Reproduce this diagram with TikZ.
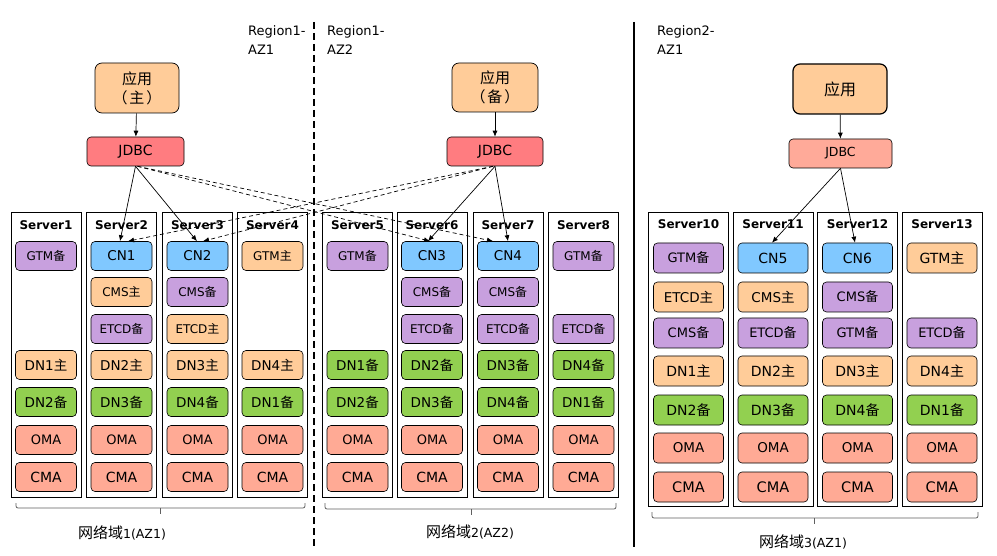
\documentclass[tikz,border=0pt]{standalone}
\usepackage{fontspec}
\setmainfont{DejaVu Sans}
\newfontfamily\cjk{Noto Sans CJK SC}
\newcommand\zh[1]{{\cjk #1}}
\usetikzlibrary{arrows.meta}
\definecolor{cpur}{HTML}{C8A0DE}
\definecolor{cblu}{HTML}{80C8FF}
\definecolor{cora}{HTML}{FFCC99}
\definecolor{cgrn}{HTML}{92D050}
\definecolor{csal}{HTML}{FFAA95}
\definecolor{cjdbc}{HTML}{FF7C80}
\definecolor{cjdbcb}{HTML}{FFAA99}
\definecolor{cbrace}{HTML}{606060}
\newcommand\comprow[5]{%
  \foreach \rw/\cl/\fs/\tx in {#5} {%
    \ifnum#4=1
      \pgfmathsetmacro\yy{{256,292,329,365,402,440,477}[\rw-1]}%
      \node[comp, fill=\cl, minimum width=#3pt, minimum height=29pt, font=\fontsize{\fs}{\fs}\selectfont] (s#1-\rw) at (#2,\yy) {\tx};
    \else
      \pgfmathsetmacro\yy{{258,297,333,371,410,448,487}[\rw-1]}%
      \node[comp, fill=\cl, minimum width=#3pt, minimum height=30pt, font=\fontsize{\fs}{\fs}\selectfont] (s#1-\rw) at (#2,\yy) {\tx};
    \fi
  }}
\begin{document}
\begin{tikzpicture}[x=1pt,y=-1pt,
  comp/.style={draw, rounded corners=4pt, inner sep=0pt, line width=0.6pt},
  srv/.style={draw, line width=0.8pt, inner sep=0pt},
  srvt/.style={font=\bfseries\fontsize{12}{12}\selectfont, inner sep=0pt},
  app/.style={draw, rounded corners=7pt, fill=cora, line width=0.7pt, align=center, inner sep=0pt, font=\cjk\fontsize{15}{19}\selectfont},
  jdbc/.style={draw, rounded corners=4pt, line width=0.6pt, inner sep=0pt},
  reg/.style={align=left, anchor=north west, inner sep=0pt, font=\fontsize{13}{19}\selectfont},
  arr/.style={-{Latex[length=6pt,width=5pt]}, line width=0.7pt},
  darr/.style={arr, dash pattern=on 4pt off 3pt},
  brace/.style={draw=cbrace, line width=0.8pt, rounded corners=2pt},
  net/.style={inner sep=0pt, font=\fontsize{12.5}{12.5}\selectfont}
]
\useasboundingbox[fill=white] (0,0) rectangle (997,556);

% region separators
\draw[line width=1.6pt, dash pattern=on 7pt off 4pt] (314,22) -- (314,547);
\draw[line width=1.6pt] (634,22) -- (634,547);

% region labels
\node[reg] (r1) at (248,25) {Region1-\\AZ1};
\node[reg] (r2) at (327,25) {Region1-\\AZ2};
\node[reg] (r3) at (657,25) {Region2-\\AZ1};

% applications and JDBC
\node[app, minimum width=84pt, minimum height=50pt] (a1) at (137,88) {应用\\（\hspace{2pt}主\hspace{2pt}）};
\node[app, minimum width=86pt, minimum height=49pt] (a2) at (495,87.5) {应用\\（\hspace{2pt}备\hspace{2pt}）};
\node[app, minimum width=94pt, minimum height=50pt, line width=1.2pt, font=\cjk\fontsize{16}{18}\selectfont] (a3) at (840,89) {应用};
\node[jdbc, fill=cjdbc, minimum width=97pt, minimum height=29pt, font=\fontsize{14}{14}\selectfont] (j1) at (135.5,151.5) {JDBC};
\node[jdbc, fill=cjdbc, minimum width=96pt, minimum height=29pt, font=\fontsize{14}{14}\selectfont] (j2) at (495,151.5) {JDBC};
\node[jdbc, fill=cjdbcb, minimum width=103pt, minimum height=29pt, font=\fontsize{12.5}{12.5}\selectfont] (j3) at (840.5,153.5) {JDBC};

% servers
\foreach \i/\x in {1/46,2/121.5,3/197.5,4/272.5,5/357.5,6/432,7/508,8/583.5} {
  \node[srv, minimum width=70pt, minimum height=285pt] (sv\i) at (\x,354.5) {};
  \node[srvt] (st\i) at (\x,225) {Server\i};
}
\foreach \i/\x in {10/688.5,11/773,12/857.5,13/942} {
  \node[srv, minimum width=80pt, minimum height=294pt] (sv\i) at (\x,359) {};
  \node[srvt] (st\i) at (\x,224) {Server\i};
}

% components
\comprow{1}{46}{61}{1}{1/cpur/12/GTM\zh{备}, 4/cora/13.5/DN1\zh{主}, 5/cgrn/13.5/DN2\zh{备}, 6/csal/13/OMA, 7/csal/14/CMA}
\comprow{2}{121.5}{61}{1}{1/cblu/13.5/CN1, 2/cora/12/CMS\zh{主}, 3/cpur/12/ETCD\zh{备}, 4/cora/13.5/DN2\zh{主}, 5/cgrn/13.5/DN3\zh{备}, 6/csal/13/OMA, 7/csal/14/CMA}
\comprow{3}{197.5}{61}{1}{1/cblu/13.5/CN2, 2/cpur/12/CMS\zh{备}, 3/cora/12/ETCD\zh{主}, 4/cora/13.5/DN3\zh{主}, 5/cgrn/13.5/DN4\zh{备}, 6/csal/13/OMA, 7/csal/14/CMA}
\comprow{4}{272.5}{61}{1}{1/cora/12/GTM\zh{主}, 4/cora/13.5/DN4\zh{主}, 5/cgrn/13.5/DN1\zh{备}, 6/csal/13/OMA, 7/csal/14/CMA}
\comprow{5}{357.5}{61}{1}{1/cpur/12/GTM\zh{备}, 4/cgrn/13.5/DN1\zh{备}, 5/cgrn/13.5/DN2\zh{备}, 6/csal/13/OMA, 7/csal/14/CMA}
\comprow{6}{432}{61}{1}{1/cblu/13.5/CN3, 2/cpur/12/CMS\zh{备}, 3/cpur/12/ETCD\zh{备}, 4/cgrn/13.5/DN2\zh{备}, 5/cgrn/13.5/DN3\zh{备}, 6/csal/13/OMA, 7/csal/14/CMA}
\comprow{7}{508}{61}{1}{1/cblu/13.5/CN4, 2/cpur/12/CMS\zh{备}, 3/cpur/12/ETCD\zh{备}, 4/cgrn/13.5/DN3\zh{备}, 5/cgrn/13.5/DN4\zh{备}, 6/csal/13/OMA, 7/csal/14/CMA}
\comprow{8}{583.5}{61}{1}{1/cpur/12/GTM\zh{备}, 3/cpur/12/ETCD\zh{备}, 4/cgrn/13.5/DN4\zh{备}, 5/cgrn/13.5/DN1\zh{备}, 6/csal/13/OMA, 7/csal/14/CMA}
\comprow{10}{688.5}{70}{2}{1/cpur/13/GTM\zh{备}, 2/cora/13.5/ETCD\zh{主}, 3/cpur/13/CMS\zh{备}, 4/cora/14/DN1\zh{主}, 5/cgrn/14/DN2\zh{备}, 6/csal/13.5/OMA, 7/csal/14.5/CMA}
\comprow{11}{773}{70}{2}{1/cblu/14/CN5, 2/cora/13.5/CMS\zh{主}, 3/cpur/13/ETCD\zh{备}, 4/cora/14/DN2\zh{主}, 5/cgrn/14/DN3\zh{备}, 6/csal/13.5/OMA, 7/csal/14.5/CMA}
\comprow{12}{857.5}{70}{2}{1/cblu/14/CN6, 2/cpur/13/CMS\zh{备}, 3/cpur/13/GTM\zh{备}, 4/cora/14/DN3\zh{主}, 5/cgrn/14/DN4\zh{备}, 6/csal/13.5/OMA, 7/csal/14.5/CMA}
\comprow{13}{942}{70}{2}{1/cora/14/GTM\zh{主}, 3/cpur/13/ETCD\zh{备}, 4/cora/14/DN4\zh{主}, 5/cgrn/14/DN1\zh{备}, 6/csal/13.5/OMA, 7/csal/14.5/CMA}

% connectors
\draw[arr] (a1) -- (j1);
\draw[arr] (a2) -- (j2);
\draw[arr] (a3) -- (j3);
\draw[arr] (j1.south) -- ([xshift=-1.5pt]s2-1.north);
\draw[arr] (j1.south) -- ([xshift=-0.5pt]s3-1.north);
\draw[darr] ([xshift=2pt]j1.south) -- ([xshift=-2pt]s6-1.north);
\draw[darr] ([xshift=2pt]j1.south) -- ([xshift=-15pt]s7-1.north);
\draw[arr] (j2.south) -- ([xshift=-4pt]s6-1.north);
\draw[arr] (j2.south) -- (s7-1.north);
\draw[darr] ([xshift=-2pt]j2.south) -- ([xshift=6.5pt]s2-1.north);
\draw[darr] ([xshift=-2pt]j2.south) -- ([xshift=5.5pt]s3-1.north);
\draw[arr] (j3.south) -- ([xshift=-1pt]s11-1.north);
\draw[arr] (j3.south) -- ([xshift=-2.5pt]s12-1.north);

% network domain braces
\draw[brace] (16,503) -- (16,508) -- (305,508) -- (305,503);
\draw[brace] (160,508) -- (160,514);
\draw[brace] (325,503) -- (325,509) -- (616,509) -- (616,503);
\draw[brace] (471,509) -- (471,515);
\draw[brace] (652,512) -- (652,518) -- (978,518) -- (978,512);
\draw[brace] (814,518) -- (814,524);
\node[net] (n1) at (122,533) {\zh{\fontsize{15}{15}\selectfont 网络域}1(AZ1)};
\node[net] (n2) at (470,532) {\zh{\fontsize{15}{15}\selectfont 网络域}2(AZ2)};
\node[net] (n3) at (803,542) {\zh{\fontsize{15}{15}\selectfont 网络域}3(AZ1)};
\end{tikzpicture}
\end{document}
